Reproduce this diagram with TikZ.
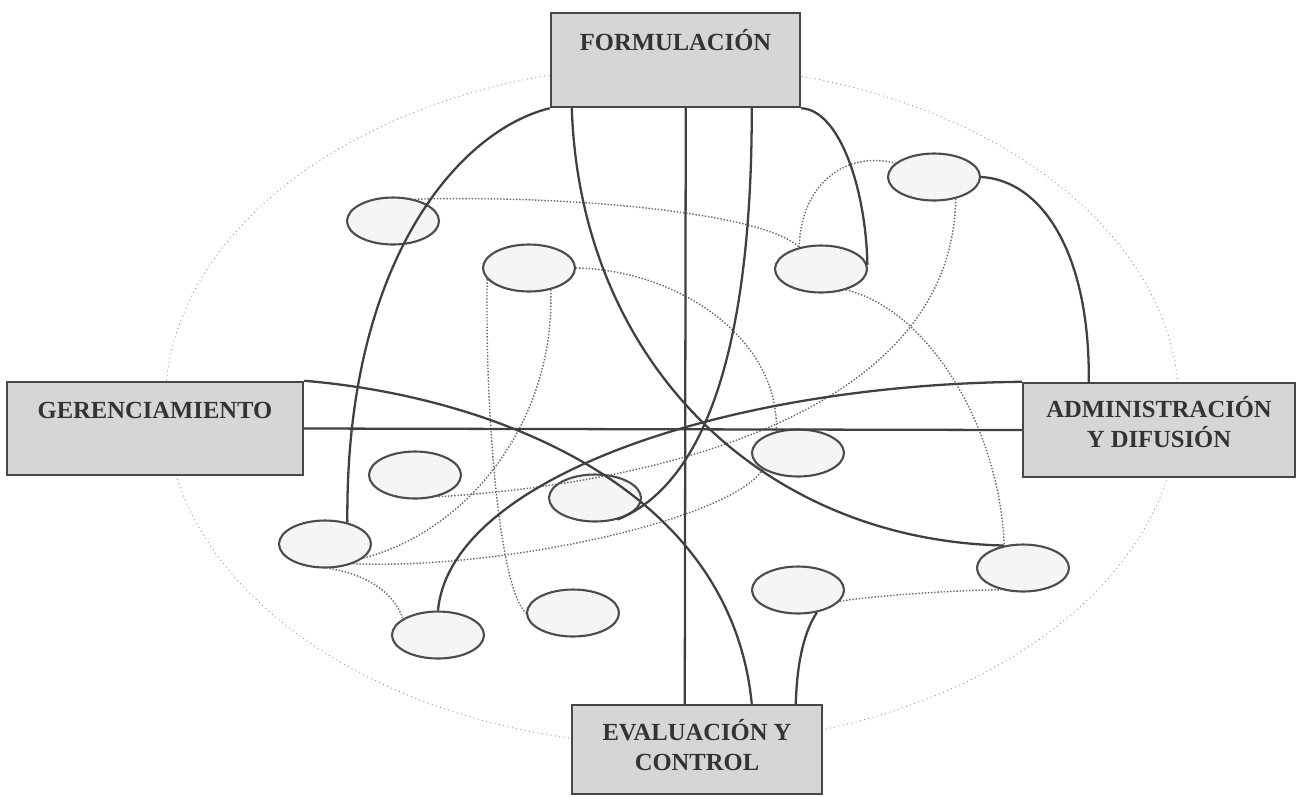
\documentclass[tikz,border=0pt]{standalone}
\usepackage{fontspec}
\setmainfont{Liberation Serif}
\usetikzlibrary{shapes.geometric}

\begin{document}
\begin{tikzpicture}[
  x=0.02cm, y=-0.02cm,
  box/.style={draw=black!72, line width=1.4pt, fill=black!16, inner sep=0pt, align=center, text=black!80, font=\fontsize{14}{17}\selectfont\bfseries},
  cell/.style={ellipse, draw=black!70, line width=1.2pt, fill=black!4, inner sep=0pt, minimum width=1.84cm, minimum height=0.94cm},
  ring/.style={ellipse, draw=black!45, dotted, line width=0.5pt, inner sep=0pt, minimum width=20.28cm, minimum height=13.6cm},
  link/.style={draw=black!75, line width=1.3pt},
  dotlink/.style={draw=black!60, densely dotted, line width=0.8pt}
]
  \useasboundingbox (0,0) rectangle (1304,796);
  \node[ring] (orbit) at (672,405) {};

  \node[box, minimum width=4.98cm, minimum height=1.88cm, text height=0.74cm, text depth=1.14cm] (form) at (675.5,60) {FORMULACIÓN};
  \node[box, minimum width=5.92cm, minimum height=1.86cm, text height=0.72cm, text depth=1.14cm] (ger) at (155,428.5) {GERENCIAMIENTO};
  \node[box, minimum width=5.44cm, minimum height=1.88cm, text height=1.28cm, text depth=0.60cm] (adm) at (1159,430) {ADMINISTRACIÓN\\Y DIFUSIÓN};
  \node[box, minimum width=5.0cm, minimum height=1.78cm, text height=1.30cm, text depth=0.48cm] (eval) at (697,749.5) {EVALUACIÓN Y\\CONTROL};

  \node[cell] (e1) at (393,221) {};
  \node[cell] (e2) at (529,268) {};
  \node[cell] (e3) at (934,177) {};
  \node[cell] (e4) at (821,269) {};
  \node[cell] (e5) at (415,475) {};
  \node[cell] (e6) at (595,498) {};
  \node[cell] (e7) at (798,453) {};
  \node[cell] (e8) at (325,544) {};
  \node[cell] (e9) at (1023,568) {};
  \node[cell] (e10) at (798,590) {};
  \node[cell] (e11) at (438,635) {};
  \node[cell] (e12) at (573,613) {};

  \draw[dotlink] (e1.45) .. controls (550,195) and (760,210) .. (e4.135);
  \draw[dotlink] (e4.135) .. controls (800,190) and (840,150) .. (e3.160);
  \draw[dotlink] (e4.-40) .. controls (930,310) and (1000,430) .. (e9.130);
  \draw[dotlink] (e3.-45) .. controls (952,420) and (640,485) .. (e5.-45);
  \draw[dotlink] (e2.east) .. controls (680,270) and (780,340) .. (e7.135);
  \draw[dotlink] (e2.-165) .. controls (485,420) and (500,590) .. (e12.west);
  \draw[dotlink] (e2.-45) .. controls (555,420) and (470,530) .. (e8.-20);
  \draw[dotlink] (e8.-35) .. controls (500,570) and (730,520) .. (e7.-155);
  \draw[dotlink] (e8.-80) .. controls (370,575) and (395,595) .. (e11.155);
  \draw[dotlink] (e10.-15) .. controls (880,595) and (960,590) .. (e9.-135);

  \draw[link] ([xshift=2.72cm]form.south west) -- ([xshift=2.28cm]eval.north west);
  \draw[link] (ger.east) -- (adm.west);
  \draw[link] (form.south west) .. controls (460,130) and (345,260) .. (e8.44);
  \draw[link] ([xshift=0.44cm]form.south west) .. controls (580,360) and (760,540) .. (e9.130);
  \draw[link] ([xshift=4.04cm]form.south west) .. controls (752,320) and (715,480) .. (e6.-44);
  \draw[link] (form.south east) .. controls (840,110) and (866,190) .. (e4.5);
  \draw[link] (e3.east) .. controls (1040,180) and (1090,250) .. ([xshift=1.34cm]adm.north west);
  \draw[link] (ger.north east) .. controls (480,395) and (730,480) .. ([xshift=3.62cm]eval.north west);
  \draw[link] (adm.north west) .. controls (720,385) and (450,480) .. (e11.north);
  \draw[link] (e10.-50) .. controls (805,630) and (797,660) .. ([xshift=4.5cm]eval.north west);
\end{tikzpicture}
\end{document}
